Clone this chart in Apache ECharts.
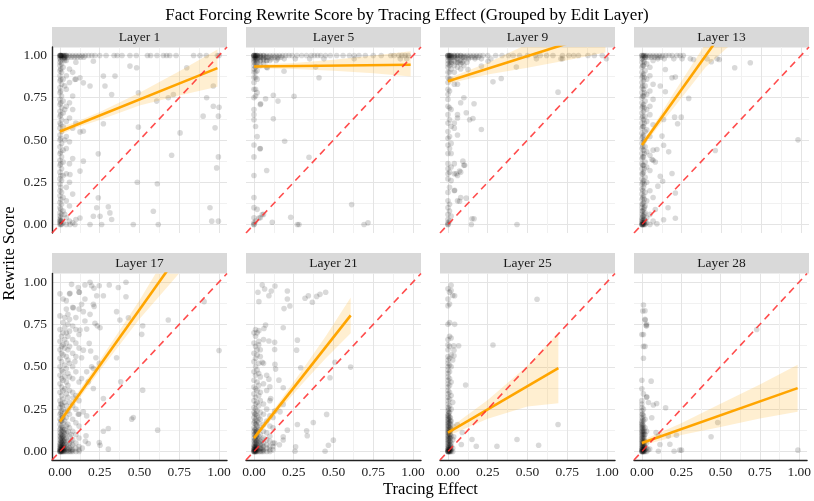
<!DOCTYPE html>
<html><head><meta charset="utf-8">
<script src="https://cdn.jsdelivr.net/npm/echarts@6/dist/echarts.min.js"></script>
<style>html,body{margin:0;padding:0;background:#fff}#c{width:814px;height:501px}</style>
</head><body><div id="c"></div><script>
const layerNames = ['Layer 1','Layer 5','Layer 9','Layer 13','Layer 17','Layer 21','Layer 25','Layer 28'];
const tickValues = [0, 0.25, 0.5, 0.75, 1];
const gridValues = [0, 0.125, 0.25, 0.375, 0.5, 0.625, 0.75, 0.875, 1];
const refLine = [[-0.05,-0.05],[1.05,1.05]];

// ---- Layer 1 ----
const L1_cols = [
 [0,[0,0.01,0.02,0.03,0.05,0.07,0.1,0.13,0.17,0.2,0.24,0.27,0.31,0.35,0.38,0.42,0.46,0.5,0.53,0.57,0.6,0.64,0.67,0.71,0.74,0.78,0.81,0.85,0.88,0.91,0.94,0.96,0.98,0.99,1,1,1]],
 [0.005,[0,0.02,0.04,0.09,0.15,0.22,0.29,0.36,0.43,0.51,0.59,0.65,0.72,0.79,0.86,0.92,0.97,1,1,1]],
 [0.01,[0,0.02,0.06,0.12,0.19,0.26,0.33,0.4,0.48,0.55,0.62,0.69,0.76,0.83,0.9,0.95,0.99,1,1]],
 [0.02,[0.01,0.08,0.16,0.29,0.37,0.44,0.58,0.66,0.73,0.86,0.93,0.98,1,1]],
 [0.03,[0.06,0.5,0.68,0.82,0.97,0.98,0.99,1,1]],
 [0.04,[0,0.04,0.14,0.22,0.3,0.45,0.52,0.61,0.7,0.8,0.88,0.97,1,1]],
 [0.06,[0.02,0.11,0.25,0.36,0.49,0.63,0.72,0.84,0.92,1]],
 [0.08,[0.01,0.18,0.39,0.57,0.68,0.76,0.9,1]],
 [0.1,[0.03,0.6,0.86,0.96,1]]
];
const L1_rows = [
 [1,[0.12,0.14,0.16,0.18,0.2,0.22,0.25,0.29,0.34,0.36,0.39,0.44,0.48,0.55,0.57,0.61,0.65,0.67,0.69,0.73,0.84,0.88,0.92,0.99,1.0]],
 [0.99,[0.03,0.05,0.07,0.09,0.11,0.13,0.15]]
];
const L1_pts = [[0.094,0.858],[0.126,0.868],[0.147,0.838],[0.189,0.819],[0.21,0.966],[0.273,0.878],[0.283,0.819],[0.325,0.769],[0.346,0.878],[0.44,0.937],[0.482,0.927],[0.493,0.779],[0.608,0.73],[0.681,0.75],[0.713,0.769],[0.797,0.927],[0.922,0.75],[0.964,0.819],[0.964,0.70],[1.0,0.694],[0.90,0.641],[0.996,0.641],[0.975,0.572],[0.493,0.576],[0.273,0.596],[0.147,0.552],[0.126,0.548],[0.755,0.542],[0.241,0.418],[0.702,0.41],[0.996,0.40],[0.985,0.335],[0.147,0.375],[0.126,0.316],[0.063,0.296],[0.486,0.25],[0.612,0.241],[0.241,0.158],[0.304,0.105],[0.231,0.099],[0.587,0.079],[0.943,0.099],[0.314,0.069],[0.21,0.049],[0.252,0.049],[0.325,0.03],[0.126,0.039],[0.189,0],[0.262,0],[0.461,0],[0.618,0],[0.954,0.02],[0.996,0.02],[0.063,0],[0.094,0]];
const L1_fit = [[0,0.55],[0.99,0.925]];
const L1_band = [[0,0.53,0.575],[0.1,0.573,0.607],[0.25,0.618,0.665],[0.5,0.704,0.78],[0.75,0.763,0.907],[0.99,0.815,1.035]];

// ---- Layer 5 ----
const L5_cols = [
 [0,[0,0,0.01,0.04,0.1,0.16,0.29,0.4,0.47,0.62,0.65,0.68,0.75,0.8,0.84,0.87,0.9,0.92,0.94,0.96,0.97,0.98,0.99,1,1,1,1]],
 [0.01,[0.02,0.58,0.76,0.8,0.87,0.9,0.93,0.95,0.97,0.98,0.99,1,1,1]],
 [0.02,[0.09,0.52,0.78,0.86,0.91,0.94,0.96,0.98,1,1,1]],
 [0.04,[0.04,0.45,0.71,0.94,0.97,0.99,1,1]],
 [0.06,[0.06,0.95,0.98,1,1]],
 [0.08,[0.32,0.93,0.97,0.99,1]]
];
const L5_rows = [
 [1,[0.1,0.12,0.14,0.16,0.18,0.2,0.22,0.24,0.27,0.3,0.33,0.36,0.38,0.4,0.42,0.45,0.48,0.52,0.56,0.6,0.63,0.66,0.7,0.75,0.8,0.86,0.88,0.91,0.93,0.95,0.97]],
 [0.99,[0.01,0.03,0.05,0.07,0.09,0.11,0.13,0.15,0.17]],
 [0.98,[0.11,0.15,0.19,0.26,0.35,0.44,0.63,0.92,0.96]],
 [0.97,[0.02,0.04,0.06,0.08,0.1,0.14]]
];
const L5_pts = [[0.084,0.927],[0.189,0.907],[0.388,0.931],[0.409,0.868],[0.122,0.765],[0.073,0.744],[0.151,0.73],[0.252,0.759],[0.042,0.714],[0.122,0.625],[0.038,0.448],[0.193,0.493],[0.346,0.398],[0.052,0.059],[0.031,0.039],[0.115,0.014],[0.231,0.043],[0.273,0],[0.283,0],[0.614,0.118],[0.692,0],[0.717,0.01]];
const L5_fit = [[0,0.935],[0.985,0.945]];
const L5_band = [[0,0.925,0.945],[0.25,0.92,0.955],[0.5,0.91,0.975],[0.75,0.895,1.0],[0.985,0.875,1.025]];

// ---- Layer 9 ----
const L9_cols = [
 [0,[0,0,0.01,0.03,0.06,0.1,0.14,0.19,0.27,0.3,0.33,0.36,0.42,0.47,0.51,0.55,0.6,0.65,0.7,0.74,0.77,0.8,0.84,0.87,0.9,0.93,0.95,0.97,0.99,1,1,1]],
 [0.01,[0.02,0.08,0.12,0.22,0.31,0.45,0.52,0.62,0.69,0.79,0.86,0.9,0.94,0.96,0.98,1,1,1]],
 [0.02,[0.05,0.26,0.34,0.42,0.48,0.58,0.68,0.86,0.92,0.95,0.97,0.99,1,1]],
 [0.04,[0.2,0.3,0.36,0.57,0.6,0.83,0.9,0.94,0.97,0.99,1,1]],
 [0.06,[0.14,0.29,0.53,0.63,0.65,0.83,0.93,0.96,0.98,1,1]],
 [0.08,[0.16,0.31,0.72,0.92,0.95,0.97,1,1]],
 [0.1,[0.35,0.75,0.94,0.97,0.99,1]]
];
const L9_rows = [
 [1,[0.12,0.14,0.16,0.18,0.2,0.22,0.25,0.3,0.34,0.38,0.41,0.45,0.5,0.55,0.58,0.62,0.66,0.72,0.76,0.79,0.82,0.88,0.92,0.97]],
 [0.99,[0.01,0.03,0.05,0.07,0.09,0.11,0.13,0.15,0.17,0.19]],
 [0.98,[0.13,0.17,0.21,0.27,0.556,0.71,0.72,0.996]],
 [0.96,[0.02,0.05,0.07,0.09,0.12]]
];
const L9_pts = [[0.126,0.917],[0.21,0.937],[0.252,0.966],[0.43,0.931],[0.283,0.844],[0.335,0.864],[0.692,0.783],[0.164,0.714],[0.115,0.661],[0.136,0.62],[0.157,0.627],[0.21,0.562],[0.094,0.375],[0.105,0.351],[0.073,0.316],[0.052,0.30],[0.042,0.203],[0.073,0.138],[0.115,0.156],[0.151,0.034],[0.164,0.034],[0.147,0],[0.434,0]];
const L9_fit = [[0,0.848],[0.99,1.142]];
const L9_band = [[0,0.833,0.863],[0.25,0.887,0.957],[0.5,0.927,1.067],[0.75,0.971,1.171],[0.99,1.017,1.267]];

// ---- Layer 13 ----
const L13_cols = [
 [0,[0,0,0,0.01,0.02,0.03,0.04,0.06,0.08,0.1,0.12,0.15,0.18,0.21,0.24,0.27,0.3,0.33,0.36,0.39,0.42,0.45,0.48,0.51,0.54,0.57,0.6,0.63,0.66,0.69,0.72,0.75,0.78,0.81,0.84,0.87,0.9,0.93,0.96,0.98,1,1]],
 [0.005,[0,0,0.01,0.02,0.05,0.08,0.12,0.16,0.2,0.25,0.3,0.35,0.4,0.46,0.52,0.58,0.64,0.7,0.76,0.82,0.88,0.94,0.99]],
 [0.01,[0,0.01,0.03,0.05,0.09,0.13,0.17,0.22,0.26,0.31,0.35,0.4,0.44,0.49,0.53,0.58,0.62,0.67,0.71,0.76,0.8,0.85,0.89,0.94,0.97,1,1]],
 [0.015,[0,0.01,0.03,0.06,0.1,0.15,0.24,0.33,0.42,0.5,0.6,0.69,0.78,0.87,0.96]],
 [0.02,[0,0.02,0.07,0.11,0.19,0.28,0.37,0.46,0.55,0.64,0.73,0.82,0.91,0.99,1]],
 [0.03,[0.01,0.04,0.14,0.25,0.34,0.43,0.56,0.61,0.68,0.77,0.86,0.95,1]],
 [0.05,[0,0.06,0.2,0.32,0.41,0.52,0.65,0.7,0.79,0.88,0.93,1]],
 [0.07,[0.02,0.16,0.38,0.44,0.59,0.74,0.83,0.97,1]]
];
const L13_rows = [
 [1,[0.09,0.11,0.13,0.15,0.17,0.19,0.22,0.24,0.26]],
 [0.99,[0.02,0.04,0.06,0.08,0.1,0.12]],
 [0.98,[0.1,0.14,0.2,0.252,0.304,0.409,0.472]]
];
const L13_pts = [[0.324,0.976],[0.436,0.963],[0.486,0.976],[0.583,0.927],[0.681,0.957],[0.147,0.917],[0.189,0.868],[0.21,0.872],[0.115,0.819],[0.147,0.785],[0.294,0.746],[0.205,0.635],[0.247,0.635],[0.136,0.621],[0.224,0.596],[0.126,0.523],[0.136,0.469],[0.094,0.444],[0.168,0.43],[0.461,0.438],[0.981,0.501],[0.063,0.385],[0.084,0.37],[0.189,0.302],[0.115,0.286],[0.13,0.256],[0.1,0.227],[0.21,0.187],[0.164,0.099],[0.084,0.089],[0.21,0.037],[0.136,0.028],[0.094,0.004]];
const L13_fit = [[0,0.47],[0.98,1.764]];
const L13_band = [[0,0.452,0.488],[0.1,0.575,0.625],[0.2,0.69,0.778],[0.4,0.93,1.07],[0.6,1.1,1.42],[0.98,1.5,2.0]];

// ---- Layer 17 ----
const L17_cols = [
 [0,[0,0,0,0.01,0.01,0.02,0.03,0.04,0.05,0.07,0.09,0.11,0.13,0.16,0.19,0.22,0.26,0.3,0.35,0.4,0.45,0.5,0.55,0.6,0.65,0.72,0.8,0.93]],
 [0.005,[0,0,0.01,0.02,0.03,0.04,0.06,0.08,0.1,0.14,0.18,0.23,0.28]],
 [0.01,[0,0,0.01,0.02,0.03,0.05,0.06,0.08,0.1,0.12,0.15,0.18,0.21,0.24,0.28,0.33,0.38,0.43,0.48,0.53,0.58,0.62,0.68]],
 [0.015,[0,0.01,0.02,0.03,0.05,0.07,0.09,0.13,0.2,0.27]],
 [0.02,[0,0.01,0.02,0.04,0.06,0.09,0.12,0.14,0.17,0.2,0.25,0.31,0.36,0.42,0.47,0.57,0.63,0.7,0.76,0.9]],
 [0.025,[0,0.01,0.02,0.04,0.06,0.08,0.11]],
 [0.03,[0,0.01,0.03,0.05,0.07,0.1,0.13,0.18,0.23,0.29,0.37,0.44,0.51,0.61,0.66,0.73,0.79]],
 [0.04,[0,0.02,0.04,0.08,0.11,0.15,0.2,0.27,0.34,0.41,0.49,0.56,0.64,0.7,0.84,0.89]],
 [0.05,[0,0.01,0.03,0.06,0.12,0.16,0.24,0.32,0.39,0.46,0.54,0.6,0.68,0.75,0.81]],
 [0.06,[0,0.02,0.05,0.09,0.14,0.22,0.29,0.36,0.44,0.52,0.62,0.71,0.78,0.93]],
 [0.07,[0,0.01,0.03,0.06,0.1]],
 [0.08,[0,0.01,0.04,0.07,0.12,0.19,0.27,0.35,0.43,0.5,0.58,0.66,0.74,0.85]],
 [0.1,[0,0.02,0.05,0.1,0.17,0.25,0.33,0.47,0.56,0.64,0.72,0.79]],
 [0.12,[0,0.01,0.03,0.08,0.15,0.22,0.3,0.41,0.61,0.69,0.84,0.94]]
];
const L17_rows = [];
const L17_pts = [[0.073,0.986],[0.115,0.967],[0.157,0.982],[0.189,0.998],[0.199,0.978],[0.214,0.963],[0.247,0.978],[0.31,0.982],[0.367,0.967],[0.415,0.998],[0.122,0.939],[0.063,0.933],[0.231,0.919],[0.273,0.919],[0.415,0.913],[0.157,0.9],[0.136,0.868],[0.21,0.868],[0.215,0.855],[0.084,0.848],[0.147,0.825],[0.189,0.809],[0.356,0.825],[0.43,0.789],[0.377,0.776],[0.681,0.776],[0.906,0.884],[0.157,0.77],[0.22,0.756],[0.252,0.73],[0.235,0.742],[0.52,0.742],[0.514,0.691],[0.126,0.717],[0.168,0.722],[0.184,0.638],[0.147,0.598],[0.193,0.593],[0.226,0.553],[0.356,0.553],[1.0,0.596],[0.136,0.553],[0.094,0.53],[0.168,0.47],[0.199,0.5],[0.21,0.49],[0.247,0.52],[0.136,0.431],[0.178,0.411],[0.382,0.411],[0.21,0.372],[0.273,0.313],[0.52,0.362],[0.084,0.317],[0.147,0.234],[0.168,0.21],[0.115,0.22],[0.451,0.191],[0.461,0.2],[0.304,0.136],[0.273,0.12],[0.614,0.126],[0.164,0.093],[0.247,0.053],[0.178,0.047],[0.252,0.037],[0.304,0.014],[0.14,0.02],[0.16,0.06]];
const L17_fit = [[0,0.177],[1.0,1.497]];
const L17_band = [[0,0.157,0.197],[0.25,0.477,0.537],[0.5,0.782,0.892],[0.75,1.052,1.282],[1.0,1.337,1.657]];

// ---- Layer 21 ----
const L21_cols = [
 [0,[0,0,0,0.01,0.01,0.02,0.03,0.04,0.06,0.08,0.1,0.12,0.14,0.17,0.2,0.23,0.26,0.3,0.34,0.38,0.42,0.47,0.53,0.58,0.64,0.7]],
 [0.005,[0,0,0.01,0.02,0.03,0.05,0.07,0.1,0.13,0.18,0.22]],
 [0.01,[0,0,0.01,0.02,0.03,0.05,0.07,0.09,0.11,0.13,0.16,0.19,0.22,0.25,0.28,0.32,0.37,0.45,0.5,0.55,0.62,0.68,0.72]],
 [0.015,[0,0.01,0.02,0.03,0.04,0.06,0.09,0.12,0.16]],
 [0.02,[0,0.01,0.02,0.04,0.06,0.08,0.1,0.12,0.15,0.18,0.21,0.24,0.29,0.36,0.41,0.48,0.57,0.6,0.7]],
 [0.03,[0,0.01,0.03,0.05,0.07,0.09,0.13,0.17,0.2,0.27,0.33,0.39,0.46,0.52,0.63,0.65]],
 [0.04,[0,0.02,0.04,0.06,0.1,0.14,0.19,0.23,0.3,0.35,0.44,0.56,0.6]],
 [0.05,[0,0.01,0.02,0.04,0.07]],
 [0.06,[0,0.01,0.03,0.05,0.08,0.12,0.16,0.22,0.28,0.4,0.52,0.66]],
 [0.08,[0,0.02,0.04,0.07,0.11,0.18,0.25,0.36,0.45]],
 [0.1,[0,0.01,0.03,0.06,0.09,0.15,0.21,0.3]],
 [0.12,[0.01,0.03,0.05,0.14,0.2]]
];
const L21_rows = [];
const L21_pts = [[0.025,0.939],[0.052,0.982],[0.067,0.959],[0.109,0.947],[0.132,0.976],[0.094,0.919],[0.031,0.884],[0.21,0.947],[0.21,0.9],[0.226,0.858],[0.189,0.843],[0.321,0.904],[0.342,0.919],[0.367,0.88],[0.394,0.915],[0.415,0.927],[0.451,0.939],[0.073,0.746],[0.063,0.726],[0.031,0.713],[0.184,0.73],[0.094,0.652],[0.13,0.644],[0.273,0.657],[0.268,0.598],[0.13,0.602],[0.052,0.526],[0.132,0.514],[0.136,0.486],[0.294,0.494],[0.509,0.526],[0.608,0.498],[0.478,0.435],[0.094,0.427],[0.157,0.421],[0.1,0.382],[0.184,0.376],[0.105,0.313],[0.184,0.278],[0.13,0.238],[0.164,0.234],[0.273,0.159],[0.373,0.171],[0.457,0.219],[0.331,0.122],[0.335,0.093],[0.184,0.087],[0.184,0.068],[0.21,0.126],[0.262,0.028],[0.258,0.002],[0.447,0.002],[0.468,0.037],[0.499,0.067],[0.16,0.04],[0.13,0.05]];
const L21_fit = [[0,0.079],[0.608,0.803]];
const L21_band = [[0,0.062,0.096],[0.15,0.235,0.28],[0.3,0.396,0.476],[0.45,0.549,0.679],[0.608,0.698,0.908]];

// ---- Layer 25 ----
const L25_cols = [
 [0,[0,0,0,0,0.01,0.01,0.02,0.03,0.04,0.05,0.06,0.07,0.08,0.09,0.1,0.11,0.12,0.13,0.14,0.15,0.16,0.17,0.18,0.19,0.2,0.21,0.22,0.24,0.26,0.28,0.3,0.32,0.34,0.36,0.38,0.4,0.42,0.44,0.46,0.48,0.5,0.52,0.54,0.56,0.6,0.63,0.66,0.75,0.86,0.9,0.96]],
 [0.005,[0,0,0.01,0.02,0.03,0.05,0.07,0.09,0.11,0.13,0.15,0.17,0.19,0.21,0.23,0.25]],
 [0.01,[0,0,0.01,0.02,0.04,0.06,0.08,0.1,0.12,0.14,0.17,0.2,0.23,0.27,0.31,0.35,0.39,0.43,0.47,0.51,0.55,0.62,0.68,0.76,0.87,0.94]],
 [0.015,[0,0.01,0.02,0.04,0.06,0.08,0.1,0.12,0.14,0.16,0.18,0.2]],
 [0.02,[0,0.01,0.03,0.05,0.09,0.13,0.18,0.25,0.33,0.41,0.5,0.57,0.67,0.95,0.98]],
 [0.03,[0,0.02,0.07,0.15,0.29,0.54,0.92]]
];
const L25_rows = [];
const L25_pts = [[0.042,0.919],[0.042,0.75],[0.036,0.624],[0.067,0.624],[0.038,0.598],[0.038,0.565],[0.111,0.392],[0.283,0.628],[0.56,0.898],[0.692,0.159],[0.059,0.159],[0.09,0.112],[0.036,0.087],[0.151,0.071],[0.084,0.041],[0.178,0.031],[0.308,0.031],[0.434,0.071],[0.57,0.037]];
const L25_fit = [[0,0.112],[0.694,0.492]];
const L25_band = [[0,0.092,0.132],[0.25,0.194,0.304],[0.5,0.266,0.506],[0.694,0.285,0.70]];

// ---- Layer 28 ----
const L28_cols = [
 [0,[0,0,0,0.01,0.01,0.02,0.03,0.04,0.05,0.06,0.07,0.08,0.09,0.1,0.11,0.12,0.13,0.14,0.15,0.16,0.17,0.18,0.2,0.22,0.24,0.26,0.28,0.3,0.37,0.42,0.69]],
 [0.005,[0,0,0.01,0.02,0.03,0.04,0.05,0.06,0.08,0.1,0.12,0.14,0.16,0.19,0.22]],
 [0.01,[0,0,0.01,0.02,0.03,0.05,0.07,0.09,0.11,0.13,0.15,0.18,0.21,0.25,0.34,0.55,0.62,0.69]],
 [0.015,[0,0.01,0.02,0.03,0.04,0.06,0.08,0.1,0.12]],
 [0.02,[0,0.01,0.03,0.06,0.1,0.14,0.19,0.62,0.78,0.83]],
 [0.03,[0,0.02,0.05,0.12,0.32,0.74,0.75]]
];
const L28_rows = [];
const L28_pts = [[0.01,0.864],[0.006,0.829],[0.027,0.744],[0.021,0.776],[0.059,0.415],[0.031,0.323],[0.042,0.289],[0.073,0.274],[0.094,0.283],[0.151,0.258],[0.063,0.199],[0.09,0.112],[0.105,0.093],[0.168,0.091],[0.22,0.096],[0.115,0.041],[0.178,0.043],[0.05,0.015],[0.04,0.01],[0.105,0.002],[0.205,0.002],[0.241,0.008],[0.252,0.008],[0.482,0.171],[0.44,0.087],[0.73,0.72],[0.992,0.008]];
const L28_fit = [[0,0.05],[0.99,0.374]];
const L28_band = [[0,0.035,0.065],[0.25,0.097,0.167],[0.5,0.145,0.282],[0.75,0.195,0.395],[0.99,0.235,0.512]];

const layers = [
 [L1_cols,L1_rows,L1_pts,L1_fit,L1_band],
 [L5_cols,L5_rows,L5_pts,L5_fit,L5_band],
 [L9_cols,L9_rows,L9_pts,L9_fit,L9_band],
 [L13_cols,L13_rows,L13_pts,L13_fit,L13_band],
 [L17_cols,L17_rows,L17_pts,L17_fit,L17_band],
 [L21_cols,L21_rows,L21_pts,L21_fit,L21_band],
 [L25_cols,L25_rows,L25_pts,L25_fit,L25_band],
 [L28_cols,L28_rows,L28_pts,L28_fit,L28_band]
];

function expand(cols, rows, pts){
  const out = [];
  cols.forEach(c => c[1].forEach(y => out.push([c[0], y])));
  rows.forEach(r => r[1].forEach(x => out.push([x, r[0]])));
  pts.forEach(p => out.push(p));
  return out;
}

const FONT = '"Liberation Serif", "DejaVu Serif", serif';
const lefts = [52, 246, 440, 634];
const W = 175;
const tops = [47, 273.5];
const heights = [186, 186.5];
const stripTops = [27, 253];

const grids = [], xAxes = [], yAxes = [], series = [], graphics = [];
layers.forEach((L, i) => {
  const row = Math.floor(i / 4), col = i % 4;
  grids.push({left: lefts[col], top: tops[row], width: W, height: heights[row], containLabel: false});
  const common = (showLine, showLabel) => ({
    type: 'value', gridIndex: i, min: -0.05, max: 1.05,
    axisLine: {show: showLine, onZero: false, lineStyle: {color: '#222', width: 1.4}},
    axisTick: {show: false, customValues: gridValues},
    axisLabel: {show: showLabel, customValues: tickValues, formatter: v => v.toFixed(2),
      fontFamily: FONT, fontSize: 13.5, color: '#222', margin: 5},
    splitLine: {show: true, lineStyle: {color: ['#e4e4e4', '#f1f1f1'], width: 1}},
    minorSplitLine: {show: false}
  });
  xAxes.push(common(row === 1, row === 1));
  yAxes.push(common(col === 0, col === 0));

  series.push({
    type: 'scatter', xAxisIndex: i, yAxisIndex: i, data: expand(L[0], L[1], L[2]),
    symbolSize: 5.6, itemStyle: {color: 'rgba(0,0,0,0.19)'}, silent: true, z: 1
  });
  const band = L[4];
  series.push({
    type: 'custom', xAxisIndex: i, yAxisIndex: i, data: band, encode: {x: 0, y: [1, 2]},
    clip: true, silent: true, z: 2,
    renderItem: function(params, api){
      if (params.dataIndex !== 0) return;
      const p = [];
      band.forEach(b => p.push(api.coord([b[0], b[2]])));
      for (let k = band.length - 1; k >= 0; k--) p.push(api.coord([band[k][0], band[k][1]]));
      const cs = params.coordSys;
      return {type: 'polygon', shape: {points: p}, style: {fill: 'rgba(255,165,0,0.18)'},
        clipPath: {type: 'rect', shape: {x: cs.x, y: cs.y, width: cs.width, height: cs.height}}};
    }
  });
  series.push({
    type: 'line', xAxisIndex: i, yAxisIndex: i, data: L[3], symbol: 'none', clip: true,
    lineStyle: {color: '#FFA500', width: 2.6}, silent: true, z: 3
  });
  series.push({
    type: 'line', xAxisIndex: i, yAxisIndex: i, data: refLine, symbol: 'none', clip: true,
    lineStyle: {color: 'rgba(255,45,45,0.85)', width: 1.6, type: [7, 5]}, silent: true, z: 4
  });
  graphics.push({type: 'rect', shape: {x: lefts[col], y: stripTops[row], width: W, height: 20.5},
    style: {fill: '#d9d9d9'}, silent: true});
  graphics.push({type: 'text', x: lefts[col] + W / 2, y: stripTops[row] + 10.5,
    style: {text: layerNames[i], font: '13.5px ' + FONT, fill: '#1a1a1a', align: 'center', verticalAlign: 'middle'}});
});

graphics.push({type: 'text', x: 430.5, y: 490,
  style: {text: 'Tracing Effect', font: '16.5px ' + FONT, fill: '#000', align: 'center', verticalAlign: 'middle'}});
graphics.push({type: 'text', x: 10, y: 253.5, rotation: Math.PI / 2,
  style: {text: 'Rewrite Score', font: '16.5px ' + FONT, fill: '#000', align: 'center', verticalAlign: 'middle'}});

const chart = echarts.init(document.getElementById('c'), null, {renderer: 'canvas'});
chart.setOption({
  animation: false,
  backgroundColor: '#fff',
  title: {text: 'Fact Forcing Rewrite Score by Tracing Effect (Grouped by Edit Layer)', left: 'center', top: 2,
    textStyle: {fontFamily: FONT, fontSize: 17, fontWeight: 'normal', color: '#000'}},
  grid: grids, xAxis: xAxes, yAxis: yAxes, series: series, graphic: graphics
});
</script></body></html>
